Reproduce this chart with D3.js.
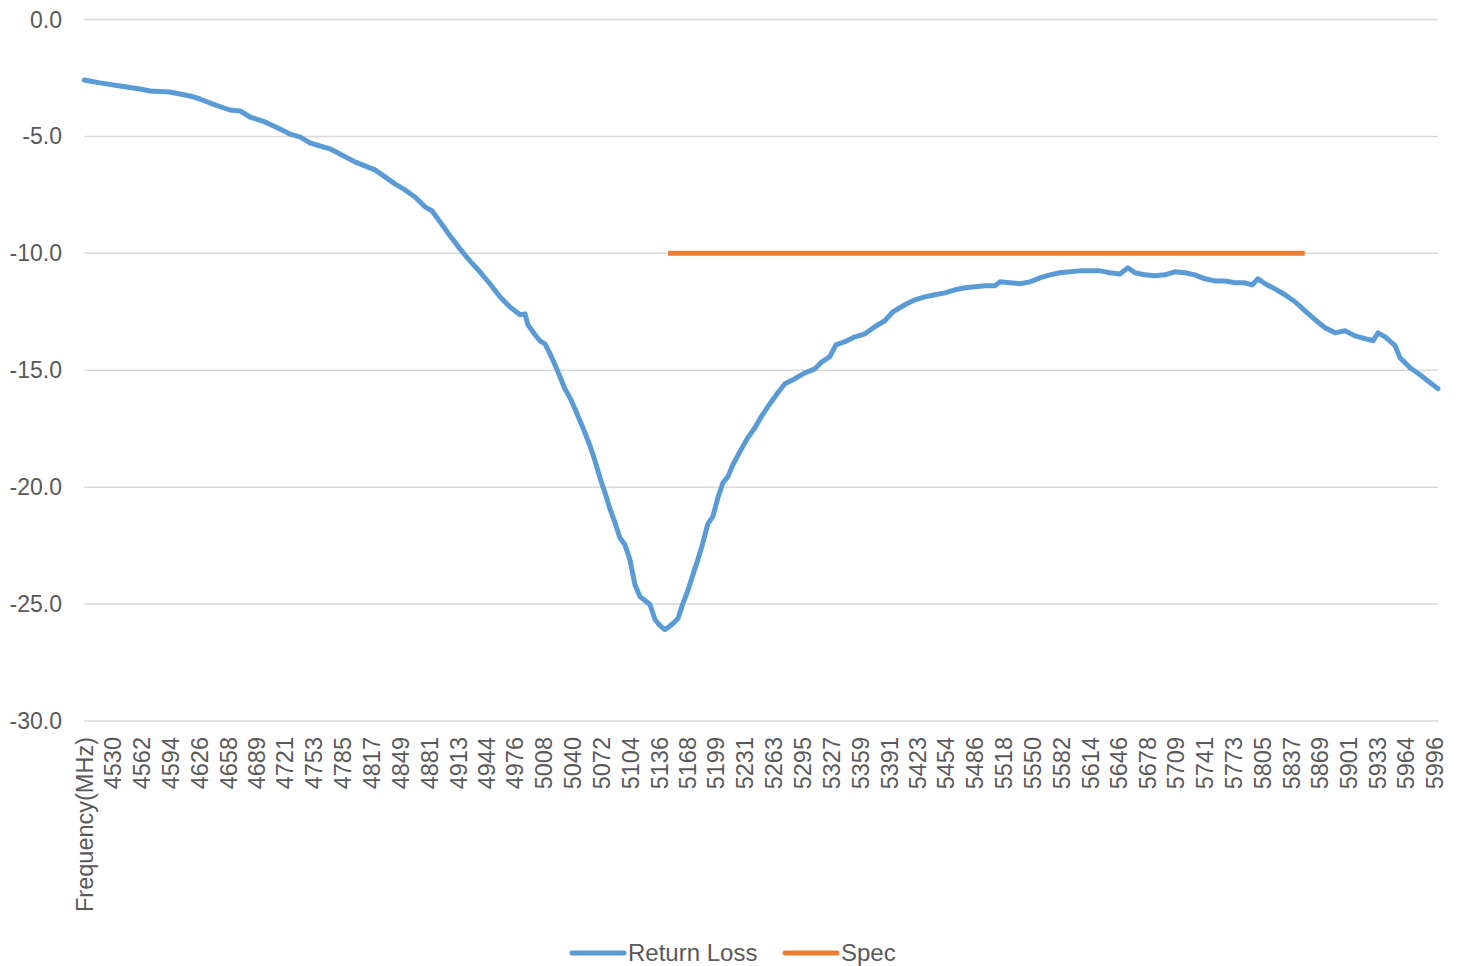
<!DOCTYPE html>
<html>
<head>
<meta charset="utf-8">
<script src="https://cdn.jsdelivr.net/npm/d3@7"></script>
<style>
  html, body { margin: 0; padding: 0; background: #ffffff; }
  svg { display: block; font-family: "Liberation Sans", Arial, sans-serif; }
</style>
</head>
<body>
<svg id="chart" width="1457" height="966"></svg>
<script>
// ---- Data ----
const xTickLabels = ["Frequency(MHz)", "4530", "4562", "4594", "4626", "4658", "4689", "4721", "4753", "4785",
  "4817", "4849", "4881", "4913", "4944", "4976", "5008", "5040", "5072", "5104", "5136", "5168",
  "5199", "5231", "5263", "5295", "5327", "5359", "5391", "5423", "5454", "5486", "5518", "5550",
  "5582", "5614", "5646", "5678", "5709", "5741", "5773", "5805", "5837", "5869", "5901", "5933",
  "5964", "5996"];
const headerFreq = 4498.1;          // position of the first (header) category
const freqRange = [4498.1, 5999.6]; // first / last category frequency (MHz)

const yTicks = [0, -5, -10, -15, -20, -25, -30];

const rlFreq = [4498, 4515.5, 4537.7, 4559.9, 4571.0, 4593.1, 4615.3, 4626.4, 4643.0, 4659.7,
  4670.8, 4681.9, 4698.5, 4715.1, 4726.2, 4737.3, 4748.4, 4759.5, 4770.6, 4781.7,
  4798.3, 4809.4, 4820.5, 4831.6, 4842.7, 4853.8, 4864.9, 4876.0, 4883.7, 4892.6,
  4903.7, 4914.8, 4925.8, 4936.9, 4948.0, 4959.1, 4970.2, 4981.3, 4986.9, 4990.2,
  4998.0, 5003.5, 5009.1, 5014.6, 5020.1, 5025.7, 5031.2, 5036.8, 5042.3, 5047.9,
  5053.4, 5059.0, 5064.5, 5070.0, 5075.6, 5081.1, 5086.7, 5092.2, 5097.8, 5103.3,
  5108.9, 5114.4, 5120.0, 5125.5, 5131.1, 5136.6, 5142.1, 5145.5, 5151.0, 5156.6,
  5162.0, 5167.6, 5173.2, 5178.7, 5184.3, 5189.8, 5195.3, 5200.9, 5206.4, 5212.0,
  5217.5, 5225.3, 5234.2, 5241.9, 5249.7, 5258.6, 5267.4, 5275.2, 5286.3, 5297.4,
  5308.5, 5316.2, 5325.1, 5331.8, 5341.8, 5352.9, 5364.0, 5375.0, 5386.1, 5395.0,
  5408.3, 5419.4, 5430.5, 5441.6, 5452.7, 5463.8, 5474.9, 5486.0, 5497.1, 5508.2,
  5513.7, 5524.8, 5535.9, 5547.0, 5558.1, 5569.2, 5580.3, 5591.3, 5602.4, 5613.5,
  5624.6, 5635.7, 5646.8, 5655.7, 5663.4, 5674.5, 5685.6, 5696.7, 5707.8, 5718.9,
  5730.0, 5741.1, 5752.2, 5763.3, 5774.4, 5785.5, 5793.3, 5799.9, 5807.7, 5818.8,
  5829.9, 5841.0, 5852.1, 5863.2, 5874.3, 5885.4, 5896.5, 5907.6, 5918.7, 5927.6,
  5933.1, 5940.9, 5952.0, 5957.5, 5968.6, 5979.7, 5990.8, 5999.6];
const rlValue = [-2.59, -2.71, -2.84, -2.97, -3.06, -3.10, -3.27, -3.40, -3.65, -3.87,
  -3.91, -4.17, -4.38, -4.68, -4.90, -5.02, -5.28, -5.41, -5.53, -5.75,
  -6.09, -6.26, -6.43, -6.73, -7.03, -7.29, -7.59, -8.01, -8.18, -8.65,
  -9.25, -9.81, -10.32, -10.79, -11.30, -11.86, -12.29, -12.63, -12.59, -13.06,
  -13.48, -13.74, -13.87, -14.29, -14.76, -15.28, -15.79, -16.18, -16.65, -17.16,
  -17.68, -18.23, -18.87, -19.59, -20.23, -20.92, -21.52, -22.16, -22.46, -23.10,
  -24.17, -24.68, -24.85, -25.02, -25.66, -25.92, -26.09, -26.01, -25.83, -25.62,
  -24.98, -24.42, -23.74, -23.10, -22.37, -21.56, -21.26, -20.45, -19.81, -19.55,
  -19.04, -18.48, -17.88, -17.46, -16.94, -16.43, -15.96, -15.58, -15.36, -15.11,
  -14.94, -14.64, -14.42, -13.91, -13.78, -13.57, -13.44, -13.14, -12.88, -12.50,
  -12.20, -11.99, -11.86, -11.77, -11.69, -11.56, -11.47, -11.43, -11.39, -11.39,
  -11.22, -11.26, -11.30, -11.22, -11.05, -10.92, -10.83, -10.79, -10.75, -10.75,
  -10.75, -10.83, -10.88, -10.62, -10.83, -10.92, -10.96, -10.92, -10.79, -10.83,
  -10.92, -11.09, -11.18, -11.18, -11.26, -11.26, -11.35, -11.09, -11.30, -11.52,
  -11.77, -12.07, -12.46, -12.84, -13.18, -13.40, -13.31, -13.53, -13.65, -13.74,
  -13.40, -13.57, -13.95, -14.47, -14.89, -15.19, -15.53, -15.79];

const specFreq = [5145.6, 5851.8];
const specValue = [-10, -10];

const seriesNames = ["Return Loss", "Spec"];
const seriesColors = ["#5B9BD5", "#ED7D31"];

// ---- Layout ----
const svg = d3.select("#chart");
const plot = { left: 84.3, right: 1438, top: 19.5, bottom: 721 };
const textColor = "#595959";
const fmt = v => d3.format(".1f")(v).replace("\u2212", "-");

const x = d3.scaleLinear().domain(freqRange).range([plot.left, plot.right]);
const y = d3.scaleLinear().domain([-30, 0]).range([plot.bottom, plot.top]);

// gridlines
svg.append("g").selectAll("line").data(yTicks).join("line")
  .attr("x1", plot.left).attr("x2", plot.right)
  .attr("y1", d => y(d)).attr("y2", d => y(d))
  .attr("stroke", "#D9D9D9").attr("stroke-width", 1.5);

// y axis labels
svg.append("g").selectAll("text").data(yTicks).join("text")
  .attr("x", 62).attr("y", d => y(d)).attr("dy", "0.35em")
  .attr("text-anchor", "end")
  .attr("fill", textColor).attr("font-size", 23)
  .text(d => fmt(d));

// x axis labels (rotated)
const tickPos = xTickLabels.map((t, i) => i === 0 ? headerFreq : +t);
svg.append("g").selectAll("text").data(xTickLabels).join("text")
  .attr("transform", (d, i) => `translate(${x(tickPos[i])},737) rotate(-90)`)
  .attr("dy", "0.35em")
  .attr("text-anchor", "end")
  .attr("fill", textColor).attr("font-size", 23.5)
  .text(d => d);

// lines
const line = d3.line().x(d => x(d[0])).y(d => y(d[1])).curve(d3.curveLinear);
const rlData = rlFreq.map((f, i) => [f, rlValue[i]]);
const specData = specFreq.map((f, i) => [f, specValue[i]]);

svg.append("path").datum(specData)
  .attr("d", line).attr("fill", "none")
  .attr("stroke", seriesColors[1]).attr("stroke-width", 5);

svg.append("path").datum(rlData)
  .attr("d", line).attr("fill", "none")
  .attr("stroke", seriesColors[0]).attr("stroke-width", 5)
  .attr("stroke-linejoin", "round").attr("stroke-linecap", "round");

// legend
const legendItems = [
  { name: seriesNames[0], color: seriesColors[0], x1: 572, x2: 624, tx: 628 },
  { name: seriesNames[1], color: seriesColors[1], x1: 785, x2: 837, tx: 841 }
];
const lg = svg.append("g");
legendItems.forEach(it => {
  lg.append("line").attr("x1", it.x1).attr("x2", it.x2).attr("y1", 953).attr("y2", 953)
    .attr("stroke", it.color).attr("stroke-width", 5).attr("stroke-linecap", "round");
  lg.append("text").attr("x", it.tx).attr("y", 953).attr("dy", "0.35em")
    .attr("fill", textColor).attr("font-size", 24).text(it.name);
});
</script>
</body>
</html>
